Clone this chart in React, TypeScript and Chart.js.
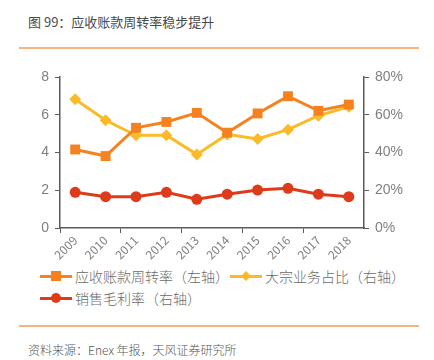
import React, { useEffect, useRef } from "react";
import { Chart, registerables } from "chart.js";
Chart.register(...registerables);

const categories = ["2009", "2010", "2011", "2012", "2013", "2014", "2015", "2016", "2017", "2018"];
const arTurnover = [4.16, 3.81, 5.31, 5.62, 6.1, 5.05, 6.07, 6.98, 6.21, 6.54];
const bulkShare = [68.2, 57.1, 49.1, 49.1, 39.0, 49.6, 47.2, 52.1, 59.5, 64.3];
const grossMargin = [18.9, 16.6, 16.6, 18.9, 15.2, 17.9, 20.1, 21.0, 17.9, 16.6];
const leftTicks = [0, 2, 4, 6, 8];
const rightTicks = [0, 20, 40, 60, 80];

const ORANGE = "#F5821F";
const YELLOW = "#FBBA28";
const RED = "#DE3B1A";
const AXIS = "#5a5a5a";
const TEXT = "#7f7f7f";
const FONT = "'Noto Sans CJK SC', 'Liberation Sans', sans-serif";

function LegendItem({ color, marker, label }: { color: string; marker: string; label: string }) {
  const m: React.CSSProperties =
    marker === "rect"
      ? { width: 10, height: 10, background: color }
      : marker === "diamond"
      ? { width: 7, height: 7, background: color, transform: "rotate(45deg)" }
      : { width: 10, height: 10, background: color, borderRadius: "50%" };
  return (
    <div style={{ display: "flex", alignItems: "center" }}>
      <div style={{ position: "relative", width: 32, height: 12, marginRight: 3 }}>
        <div style={{ position: "absolute", left: 0, top: 5, width: 32, height: 3, background: color }} />
        <div style={{ position: "absolute", left: "50%", top: "50%", transform: "translate(-50%,-50%)" }}>
          <div style={m} />
        </div>
      </div>
      <span style={{ fontSize: 14, color: "#6a6a6a", whiteSpace: "nowrap", fontWeight: 300 }}>{label}</span>
    </div>
  );
}

export default function App() {
  const ref = useRef<HTMLCanvasElement | null>(null);
  useEffect(() => {
    if (!ref.current) return;
    const chart = new Chart(ref.current, {
      type: "line",
      data: {
        labels: categories,
        datasets: [
          {
            label: "应收账款周转率（左轴）",
            data: arTurnover,
            yAxisID: "y",
            borderColor: ORANGE,
            backgroundColor: ORANGE,
            borderWidth: 3,
            pointStyle: "rect",
            pointRadius: 7,
            pointBorderWidth: 0,
          },
          {
            label: "大宗业务占比（右轴）",
            data: bulkShare,
            yAxisID: "y1",
            borderColor: YELLOW,
            backgroundColor: YELLOW,
            borderWidth: 3,
            pointStyle: "rectRot",
            pointRadius: 6,
            pointBorderWidth: 0,
          },
          {
            label: "销售毛利率（右轴）",
            data: grossMargin,
            yAxisID: "y1",
            borderColor: RED,
            backgroundColor: RED,
            borderWidth: 3,
            pointStyle: "circle",
            pointRadius: 5.5,
            pointBorderWidth: 0,
          },
        ],
      },
      options: {
        animation: false,
        responsive: false,
        maintainAspectRatio: false,
        layout: { padding: { top: 17, left: 0, right: 0, bottom: 0 } },
        plugins: { legend: { display: false }, tooltip: { enabled: false } },
        scales: {
          x: {
            type: "category",
            offset: true,
            afterFit: (s: any) => {
              s.height = 32;
            },
            grid: {
              offset: true,
              drawOnChartArea: false,
              drawTicks: true,
              tickLength: 5,
              color: (ctx: any) => (ctx.index % 2 === 0 ? AXIS : "rgba(0,0,0,0)"),
              lineWidth: 1,
            },
            border: { display: true, color: AXIS, width: 1.5 },
            ticks: {
              minRotation: 45,
              maxRotation: 45,
              autoSkip: false,
              padding: 0,
              color: TEXT,
              font: { family: FONT, size: 12 },
            },
          },
          y: {
            position: "left",
            min: 0,
            max: 8,
            afterFit: (s: any) => {
              s.width = 60;
            },
            afterBuildTicks: (s: any) => {
              s.ticks = leftTicks.map((v) => ({ value: v }));
            },
            grid: { drawOnChartArea: false, tickLength: 5, color: AXIS },
            border: { display: true, color: AXIS, width: 1.5 },
            ticks: { color: TEXT, padding: 6, font: { family: "'Liberation Sans', sans-serif", size: 14 } },
          },
          y1: {
            position: "right",
            min: 0,
            max: 80,
            afterFit: (s: any) => {
              s.width = 70;
            },
            afterBuildTicks: (s: any) => {
              s.ticks = rightTicks.map((v) => ({ value: v }));
            },
            grid: { drawOnChartArea: false, tickLength: 5, color: AXIS },
            border: { display: true, color: AXIS, width: 1.5 },
            ticks: {
              color: TEXT,
              padding: 6,
              font: { family: "'Liberation Sans', sans-serif", size: 14 },
              callback: (v: any) => v + "%",
            },
          },
        },
      },
    });
    return () => chart.destroy();
  }, []);

  return (
    <div style={{ position: "absolute", left: 0, top: 0, width: 434, height: 360, background: "#fff", fontFamily: FONT, overflow: "hidden" }}>
      <div style={{ position: "absolute", left: 28, top: 12, fontSize: 13, color: "#4a4a4a", whiteSpace: "nowrap", fontWeight: 400 }}>
        图 99：应收账款周转率稳步提升
      </div>
      <div style={{ position: "absolute", left: 19, top: 47, width: 400, height: 1.5, background: "#F9B37C" }} />
      <canvas ref={ref} width={434} height={200} style={{ position: "absolute", left: 0, top: 60, width: 434, height: 200 }} />
      <div style={{ position: "absolute", left: 40, top: 266 }}>
        <LegendItem color={ORANGE} marker="rect" label="应收账款周转率（左轴）" />
      </div>
      <div style={{ position: "absolute", left: 230, top: 266 }}>
        <LegendItem color={YELLOW} marker="diamond" label="大宗业务占比（右轴）" />
      </div>
      <div style={{ position: "absolute", left: 40, top: 288 }}>
        <LegendItem color={RED} marker="circle" label="销售毛利率（右轴）" />
      </div>
      <div style={{ position: "absolute", left: 19, top: 325, width: 400, height: 1.5, background: "#F9B37C" }} />
      <div style={{ position: "absolute", left: 28, top: 341, fontSize: 12, color: "#555", whiteSpace: "nowrap", fontWeight: 300 }}>
        资料来源：Enex 年报，天风证券研究所
      </div>
    </div>
  );
}
